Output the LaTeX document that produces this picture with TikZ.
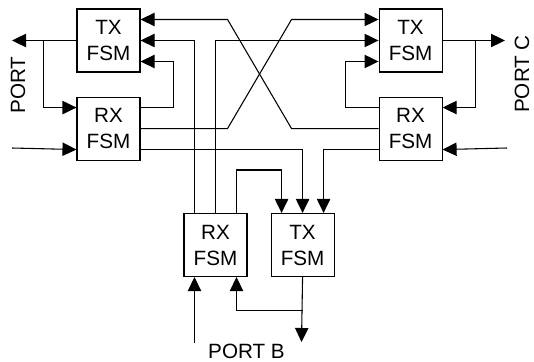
\documentclass[tikz,border=0pt]{standalone}
\usepackage{fontspec}
\setmainfont{Liberation Sans}
\usetikzlibrary{arrows.meta, positioning, calc}

\begin{document}
\begin{tikzpicture}[x=0.75pt, y=0.75pt, line width=0.8pt, >={Triangle[length=10.5pt, width=10pt]},
    font=\fontsize{15.5}{19.5}\selectfont,
    fsmbox/.style={draw, minimum width=47.25pt, minimum height=47.25pt, align=center, inner sep=0pt},
    portlabel/.style={inner sep=0pt}]
    \useasboundingbox (0,0) rectangle (534,361);
    % port A side
    \node[fsmbox] (txa) at (108.5,320.5) {TX\\FSM};
    \node[fsmbox, below=18pt of txa] (rxa) {RX\\FSM};
    % port C side
    \node[fsmbox, right=178.5pt of txa] (txc) {TX\\FSM};
    \node[fsmbox, below=18pt of txc] (rxc) {RX\\FSM};
    % port B side
    \node[fsmbox] (rxb) at (215.5,116) {RX\\FSM};
    \node[fsmbox, right=17.25pt of rxb] (txb) {TX\\FSM};

    \node[portlabel, rotate=90] (pa) at (18,276) {PORT};
    \node[portlabel, rotate=90] (pc) at (522,287) {PORT C};
    \node[portlabel] (pb) at (246.5,9.5) {PORT B};

    \coordinate (pa-out) at (12,320.5);
    \coordinate (pa-in) at (12,213);
    \coordinate (pc-out) at (505,320.5);
    \coordinate (pc-in) at (507,213);
    \coordinate (pb-in) at (194.5,18);
    \coordinate (pb-out) at (301.5,19);

    % port A
    \draw[->] (txa.west) -- (pa-out);
    \draw[->] ($(txa.west)+(-33,0)$) |- ($(rxa.west)+(0,21)$);
    \draw[->] (pa-in) -- ($(rxa.west)+(0,-21)$);
    \draw[->] ($(rxa.east)+(0,21)$) -- ++(33,0) |- ($(txa.east)+(0,-21)$);
    % port C
    \draw[->] (txc.east) -- (pc-out);
    \draw[->] ($(txc.east)+(33,0)$) |- ($(rxc.east)+(0,21)$);
    \draw[->] (pc-in) -- ($(rxc.east)+(0,-21)$);
    \draw[->] ($(rxc.west)+(0,21)$) -- ++(-33,0) |- ($(txc.west)+(0,-21)$);
    % crossing
    \draw[->] (rxa.east) -- ++(87,0) -- ($(txc.west)+(-87,21)$) -- ($(txc.west)+(0,21)$);
    \draw[->] (rxc.west) -- ++(-87,0) -- ($(txa.east)+(87,21)$) -- ($(txa.east)+(0,21)$);
    % port B
    \draw[->] ($(rxb.north)+(-21,0)$) |- (txa.east);
    \draw[->] (rxb.north) |- (txc.west);
    \draw[->] ($(rxb.north)+(21,0)$) -- ++(0,43) -| ($(txb.north)+(-21,0)$);
    \draw[->] ($(rxa.east)+(0,-21)$) -| (txb.north);
    \draw[->] ($(rxc.west)+(0,-21)$) -| ($(txb.north)+(21,0)$);
    \draw[->] (pb-in) -- ($(rxb.south)+(-21,0)$);
    \draw[->] (txb.south) -- (pb-out);
    \draw[->] ($(txb.south)+(0,-33)$) -| ($(rxb.south)+(21,0)$);
\end{tikzpicture}
\end{document}
